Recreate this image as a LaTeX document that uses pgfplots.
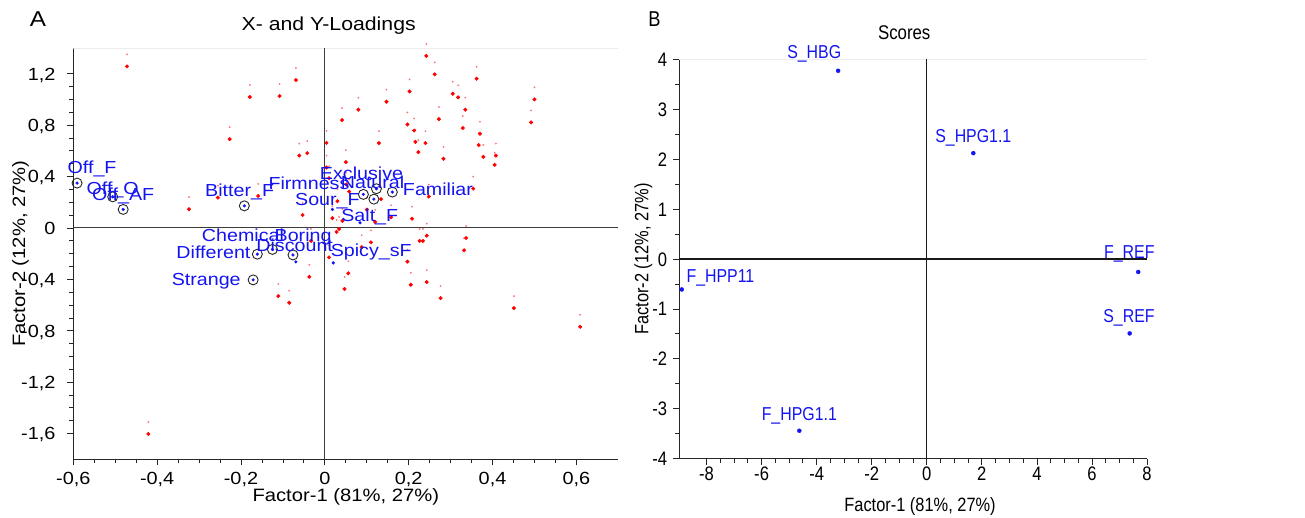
\documentclass[border=0pt]{standalone}
\usepackage{fontspec}
\setmainfont{Liberation Sans}
\newfontfamily\wideA[FakeStretch=1.13]{Liberation Sans}
\newfontfamily\narrowB[FakeStretch=0.85]{Liberation Sans}
\usepackage{pgfplots}
\pgfplotsset{compat=1.18}
\usepackage{pgfplotstable}
\definecolor{lblue}{RGB}{20,20,240}
\definecolor{zline}{RGB}{60,60,60}
\definecolor{tinyred}{RGB}{255,120,120}

\pgfplotstableread{
x y
-0.472 1.257
-0.179 1.019
-0.108 1.026
-0.069 1.151
-0.227 0.691
-0.061 0.563
-0.042 0.582
0.004 0.662
-0.324 0.146
-0.255 0.236
-0.159 0.249
-0.053 0.101
0.010 0.387
-0.037 -0.380
-0.111 -0.530
-0.085 -0.582
0.010 -0.229
-0.033 -0.101
0.242 1.338
0.262 1.195
0.362 1.161
0.202 1.062
0.147 0.982
0.080 0.920
0.041 0.839
0.305 1.044
0.318 1.016
0.335 0.920
0.500 1.000
0.492 0.821
0.272 0.847
0.197 0.805
0.213 0.758
0.216 0.670
0.240 0.660
0.223 0.590
0.329 0.777
0.370 0.733
0.367 0.645
0.378 0.553
0.408 0.563
0.405 0.491
0.283 0.538
0.129 0.660
0.050 0.512
0.354 0.306
0.248 0.244
0.134 0.224
0.030 0.208
0.208 0.072
0.158 0.083
0.120 0.047
0.042 0.055
0.018 0.076
0.028 -0.031
0.034 -0.008
0.100 0.143
0.243 -0.060
0.226 -0.101
0.234 -0.101
0.337 -0.078
0.110 -0.112
0.332 -0.174
0.088 -0.150
0.197 -0.262
0.056 -0.353
0.047 -0.475
0.205 -0.442
0.243 -0.421
0.276 -0.546
0.451 -0.624
0.609 -0.769
-0.421 -1.603
0.051 0.338
0.058 0.283
0.004 0.470
}\redA

\pgfplotstableread{
x y dx dy lab
-0.591 0.349 15 9.7 Off\_F
-0.506 0.242 0 2.4 Off\_O
-0.481 0.144 0 9.3 Off\_AF
-0.192 0.172 -4.7 9 Bitter\_F
-0.171 -0.404 -46.9 -5.3 Strange
-0.161 -0.204 -43.9 -4.3 Different
-0.125 -0.167 -29.5 7.6 Chemical
-0.076 -0.210 1.7 3 Discount
-0.069 -0.264 7.2 20.2 Boring
0.018 0.144 -23.4 20.3 Firmness
0.092 0.261 -36 -10.7 Sour\_F
0.123 0.305 -14.9 9.7 Exclusive
0.117 0.224 -1.3 10.7 Natural
0.161 0.279 45.6 -3 Familiar
0.084 0.040 9.7 1 Salt\_F
0.020 -0.272 38 6 Spicy\_sF
}\blueA

\pgfplotstableread{
x y
-0.591 0.349
-0.506 0.242
-0.481 0.144
-0.192 0.172
-0.171 -0.404
-0.161 -0.204
-0.125 -0.167
-0.076 -0.210
0.092 0.261
0.123 0.305
0.117 0.224
0.161 0.279
}\circA

\pgfplotstableread{
x y dx dy lab
-3.22 3.77 -23.9 12 S\_HBG
1.69 2.12 0 11 S\_HPG1.1
7.68 -0.26 -8.9 13.3 F\_REF
7.37 -1.49 -0.7 11 S\_REF
-8.90 -0.61 38.7 7.3 F\_HPP11
-4.63 -3.44 0 10.3 F\_HPG1.1
}\scoresB

\begin{document}
\begin{tikzpicture}
\useasboundingbox (0pt,0pt) rectangle (1305pt,517pt);

% ---------------- Panel A ----------------
\begin{axis}[
  at={(73.3pt,57.7pt)}, anchor=south west,
  scale only axis, width=545pt, height=411.3pt,
  xmin=-0.6, xmax=0.7, ymin=-1.8, ymax=1.4,
  axis x line*=bottom, axis y line*=left,
  axis line style={black!85, line width=1pt},
  tick align=outside,
  major tick length=6pt, minor tick length=4pt,
  tick style={black!85, line width=0.8pt},
  xtick={-0.6,-0.4,-0.2,0,0.2,0.4,0.6},
  xticklabels={{-0,6},{-0,4},{-0,2},0,{0,2},{0,4},{0,6}},
  ytick={-1.6,-1.2,-0.8,-0.4,0,0.4,0.8,1.2},
  yticklabels={{-1,6},{-1,2},{-0,8},{-0,4},0,{0,4},{0,8},{1,2}},
  minor x tick num=3, minor y tick num=3,
  xticklabel style={font=\wideA\fontsize{17.6}{18}\selectfont, anchor=base, inner sep=0pt, yshift=-19.5pt},
  yticklabel style={font=\wideA\fontsize{17.6}{18}\selectfont, anchor=base east, inner sep=0pt, xshift=-11.6pt, yshift=-6.3pt},
  xlabel={Factor-1 (81\%, 27\%)},
  ylabel={Factor-2 (12\%, 27\%)},
  every axis x label/.style={at={(axis description cs:0.5,-0.1031)}, anchor=base, inner sep=0pt, font=\wideA\fontsize{17.9}{19}\selectfont},
  every axis y label/.style={at={(axis description cs:-0.0886,0.5)}, rotate=90, anchor=base, inner sep=0pt, font=\wideA\fontsize{17.9}{19}\selectfont},
  clip=true,
]
\draw[gray!15, line width=0.8pt] (-0.6,1.4) -- (0.7,1.4);
\draw[zline, line width=1.3pt] (0,-1.8) -- (0,1.4);
\draw[zline, line width=1.1pt] (-0.6,0) -- (0.7,0);

\addplot[only marks, mark=*, mark size=0.7pt, color=tinyred, mark options={fill=tinyred, draw=tinyred},
  every mark/.append style={yshift=12pt}] table[x=x,y=y]{\redA};
\addplot[only marks, mark=*, mark size=1.8pt, color=red, mark options={fill=red, draw=red}] table[x=x,y=y]{\redA};

\addplot[only marks, mark=o, mark size=5pt, color=black!85, mark options={line width=0.9pt}] table[x=x,y=y]{\circA};

\addplot[only marks, mark=*, mark size=1.4pt, color=lblue, mark options={fill=lblue, draw=lblue},
  visualization depends on={\thisrow{dx}\as\ldx},
  visualization depends on={\thisrow{dy}\as\ldy},
  nodes near coords, point meta=explicit symbolic,
  every node near coord/.append style={anchor=base, inner sep=0pt, xshift=\ldx pt, yshift=\ldy pt,
     text=lblue, font=\wideA\fontsize{17.4}{18}\selectfont}]
  table[x=x,y=y,meta=lab]{\blueA};
\end{axis}

% ---------------- Panel B ----------------
\begin{axis}[
  at={(679pt,58.3pt)}, anchor=south west,
  scale only axis, width=468pt, height=399.4pt,
  xmin=-9, xmax=8, ymin=-4, ymax=4,
  axis x line*=bottom, axis y line*=left,
  axis line style={black!85, line width=1pt},
  tick align=outside,
  major tick length=6pt, minor tick length=4pt,
  tick style={black!85, line width=0.8pt},
  xtick={-8,-6,-4,-2,0,2,4,6,8},
  xticklabels={-8,-6,-4,-2,0,2,4,6,8},
  ytick={-4,-3,-2,-1,0,1,2,3,4},
  yticklabels={-4,-3,-2,-1,0,1,2,3,4},
  minor x tick num=3, minor y tick num=1,
  xticklabel style={font=\narrowB\fontsize{19.5}{20}\selectfont, anchor=base, inner sep=0pt, yshift=-16pt},
  yticklabel style={font=\narrowB\fontsize{19.5}{20}\selectfont, anchor=base east, inner sep=0pt, xshift=-5.7pt, yshift=-7pt},
  xlabel={Factor-1 (81\%, 27\%)},
  ylabel={Factor-2 (12\%, 27\%)},
  every axis x label/.style={at={(axis description cs:0.515,-0.1327)}, anchor=base, inner sep=0pt, font=\narrowB\fontsize{19.3}{20}\selectfont},
  every axis y label/.style={at={(axis description cs:-0.0652,0.5)}, rotate=90, anchor=base, inner sep=0pt, font=\narrowB\fontsize{19.3}{20}\selectfont},
  clip=false,
]
\draw[gray!15, line width=0.8pt] (-9,4) -- (8,4);
\draw[black!90, line width=0.7pt] (0,-4) -- (0,4);
\draw[black!90, line width=1.1pt] (-9,0) -- (8,0);

\addplot[only marks, mark=*, mark size=2pt, color=lblue, mark options={fill=lblue, draw=lblue},
  visualization depends on={\thisrow{dx}\as\ldx},
  visualization depends on={\thisrow{dy}\as\ldy},
  nodes near coords, point meta=explicit symbolic,
  every node near coord/.append style={anchor=base, inner sep=0pt, xshift=\ldx pt, yshift=\ldy pt,
     text=lblue, font=\narrowB\fontsize{18.7}{19}\selectfont}]
  table[x=x,y=y,meta=lab]{\scoresB};
\end{axis}

% titles and panel letters
\node[anchor=base, inner sep=0pt, font=\wideA\fontsize{18.8}{20}\selectfont] at (328.7pt,486pt) {X- and Y-Loadings};
\node[anchor=base, inner sep=0pt, font=\narrowB\fontsize{19.8}{20}\selectfont] at (904.2pt,477pt) {Scores};
\node[anchor=base, inner sep=0pt, font=\wideA\fontsize{21.5}{22}\selectfont] at (38pt,490.3pt) {A};
\node[anchor=base, inner sep=0pt, font=\narrowB\fontsize{21.5}{22}\selectfont] at (654.5pt,490.3pt) {B};
\end{tikzpicture}
\end{document}
